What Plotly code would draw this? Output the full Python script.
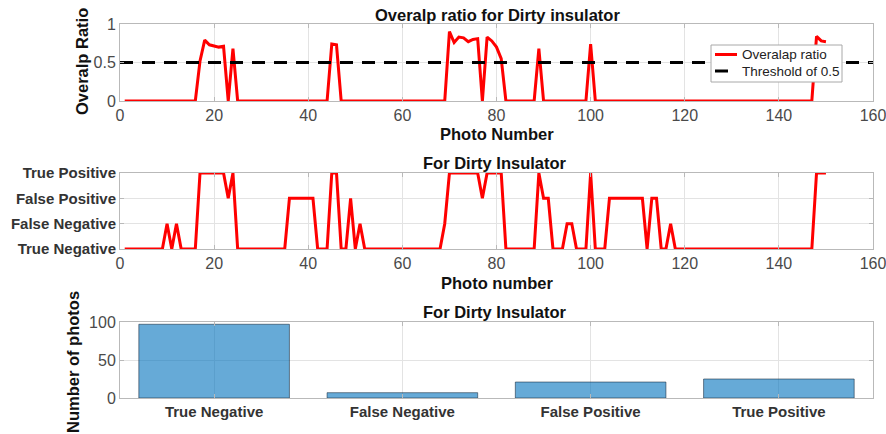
import plotly.graph_objects as go

# ---------------- data ----------------
photos = list(range(1, 151))

# overlap ratio per photo (photos not listed have no overlap)
overlap_nonzero = {
    17: 0.52, 18: 0.79, 19: 0.73, 20: 0.71, 21: 0.70, 22: 0.71, 24: 0.68,
    45: 0.74, 46: 0.73,
    70: 0.90, 71: 0.76, 72: 0.83, 73: 0.82, 74: 0.77, 75: 0.80, 76: 0.81,
    78: 0.83, 79: 0.78, 80: 0.70, 81: 0.55,
    89: 0.68, 100: 0.74,
    148: 0.84, 149: 0.78, 150: 0.77,
}
overlap = [overlap_nonzero.get(p, 0.0) for p in photos]
threshold = 0.5

# detection outcome per photo, as consecutive runs (label, number of photos)
outcome_runs = [
    ("TN", 9), ("FN", 1), ("TN", 1), ("FN", 1), ("TN", 4), ("TP", 6), ("FP", 1),
    ("TP", 1), ("TN", 11), ("FP", 6), ("TN", 3), ("TP", 2), ("TN", 2), ("FP", 1),
    ("TN", 1), ("FN", 1), ("TN", 17), ("FN", 1), ("TP", 7), ("FP", 1), ("TP", 4),
    ("TN", 7), ("TP", 1), ("FP", 2), ("TN", 3), ("FN", 2), ("TN", 3), ("TP", 1),
    ("TN", 3), ("FP", 8), ("TN", 1), ("FP", 2), ("TN", 2), ("FN", 1), ("TN", 30),
    ("TP", 3),
]
outcome_names = {"TN": "True Negative", "FN": "False Negative",
                 "FP": "False Positive", "TP": "True Positive"}
outcome_order = ["True Negative", "False Negative", "False Positive", "True Positive"]
outcomes = [outcome_names[code] for code, n in outcome_runs for _ in range(n)]

# number of photos in each outcome
bar_categories = ["True Negative", "False Negative", "False Positive", "True Positive"]
bar_counts = [97, 7, 21, 25]

# ---------------- layout helpers ----------------
W, H = 886, 434


def fx(px):
    return px / W


def fy(py):
    return 1 - py / H


PLOT_L, PLOT_R = 120, 873
TOP_Y = (24, 101)
MID_Y = (173, 249)
BOT_Y = (322, 398)

RED = "#ff0000"
BLACK = "#000000"
THRESH_DASH = "13px,9px"

TITLE_FONT = dict(family="Liberation Sans, Arial, sans-serif", size=16.5, color="#111111")
TICK_FONT = dict(family="Liberation Sans Narrow, Arial Narrow, Liberation Sans, sans-serif",
                 size=16, color="#4a4a4a")
BOLD_TICK_FONT = dict(family="Liberation Sans, Arial, sans-serif", size=15,
                      color="#333333", weight="bold")
LEGEND_FONT = dict(family="Liberation Sans, Arial, sans-serif", size=13.5, color="#222222")

AX_COMMON = dict(
    showline=True, linecolor="#b9b9b9", linewidth=1, mirror="ticks",
    showgrid=True, gridcolor="#e3e3e3", gridwidth=1,
    ticks="inside", ticklen=4, tickcolor="#b9b9b9",
    zeroline=False, automargin=False, ticklabeloverflow="allow",
)

fig = go.Figure()

# ---- overlap ratio ----
fig.add_trace(go.Scatter(
    x=photos, y=overlap, mode="lines", name="Overalap ratio",
    line=dict(color=RED, width=3), xaxis="x", yaxis="y",
))
fig.add_trace(go.Scatter(
    x=[0, 160], y=[threshold, threshold], mode="lines", name="Threshold of 0.5",
    line=dict(color=BLACK, width=3, dash=THRESH_DASH), xaxis="x", yaxis="y",
))

# ---- detection outcome ----
fig.add_trace(go.Scatter(
    x=photos, y=outcomes, mode="lines", name="Outcome",
    line=dict(color=RED, width=3), xaxis="x2", yaxis="y2",
))

# ---- outcome counts ----
fig.add_trace(go.Bar(
    x=bar_categories, y=bar_counts, width=0.8, name="Count",
    marker=dict(color="rgba(0,114,189,0.6)", line=dict(color="rgba(20,40,60,0.7)", width=0.8)),
    xaxis="x3", yaxis="y3",
))

fig.update_layout(
    width=W, height=H,
    margin=dict(l=0, r=0, t=0, b=0, pad=0, autoexpand=False),
    paper_bgcolor="white", plot_bgcolor="white",
    showlegend=False,
    xaxis=dict(domain=[fx(PLOT_L), fx(PLOT_R)], range=[0, 160], tickvals=list(range(0, 161, 20)),
               tickfont=TICK_FONT, anchor="y", **AX_COMMON),
    yaxis=dict(domain=[fy(TOP_Y[1]), fy(TOP_Y[0])], range=[0, 1], tickvals=[0, 0.5, 1],
               ticktext=["0", "0.5", "1"], tickfont=TICK_FONT, anchor="x", **AX_COMMON),
    xaxis2=dict(domain=[fx(PLOT_L), fx(PLOT_R)], range=[0, 160], tickvals=list(range(0, 161, 20)),
                tickfont=TICK_FONT, anchor="y2", **AX_COMMON),
    yaxis2=dict(domain=[fy(MID_Y[1]), fy(MID_Y[0])], type="category",
                categoryorder="array", categoryarray=outcome_order, range=[0, 3],
                tickfont=BOLD_TICK_FONT, anchor="x2", **AX_COMMON),
    xaxis3=dict(domain=[fx(PLOT_L), fx(PLOT_R)], type="category", range=[-0.5, 3.5],
                tickfont=BOLD_TICK_FONT, anchor="y3", **AX_COMMON),
    yaxis3=dict(domain=[fy(BOT_Y[1]), fy(BOT_Y[0])], range=[0, 100], tickvals=[0, 50, 100],
                tickfont=TICK_FONT, anchor="x3", **AX_COMMON),
)

# ---- legend box of the overlap panel (compact, drawn over the threshold line) ----
LEG_L, LEG_R, LEG_T, LEG_B = 711, 842, 45, 82
fig.add_shape(type="rect", xref="paper", yref="paper",
              x0=fx(LEG_L), x1=fx(LEG_R), y0=fy(LEG_B), y1=fy(LEG_T),
              fillcolor="white", line=dict(color="#a8a8a8", width=1), layer="above")
legend_rows = [
    ("Overalap ratio", RED, "solid", 54.5),
    ("Threshold of 0.5", BLACK, THRESH_DASH, 71),
]
for label, color, dash, row_y in legend_rows:
    fig.add_shape(type="line", xref="paper", yref="paper",
                  x0=fx(715), x1=fx(737), y0=fy(row_y), y1=fy(row_y),
                  line=dict(color=color, width=3, dash=dash), layer="above")
    fig.add_annotation(text=label, x=fx(740), y=fy(row_y), xref="paper", yref="paper",
                       showarrow=False, font=LEGEND_FONT, xanchor="left", yanchor="middle")

# titles and axis labels
texts = [
    ("<b>Overalp ratio for Dirty insulator</b>", 497, 15, 0),
    ("<b>Photo Number</b>", 497, 134, 0),
    ("<b>For Dirty Insulator</b>", 495, 163, 0),
    ("<b>Photo number</b>", 497, 283, 0),
    ("<b>For Dirty Insulator</b>", 495, 312, 0),
    ("<b>Overalp Ratio</b>", 82, 62, -90),
    ("<b>Number of photos</b>", 73, 362, -90),
]
for txt, px, py, ang in texts:
    fig.add_annotation(text=txt, x=fx(px), y=fy(py), xref="paper", yref="paper",
                       showarrow=False, textangle=ang, font=TITLE_FONT,
                       xanchor="center", yanchor="middle")

fig.write_html("out.html")
